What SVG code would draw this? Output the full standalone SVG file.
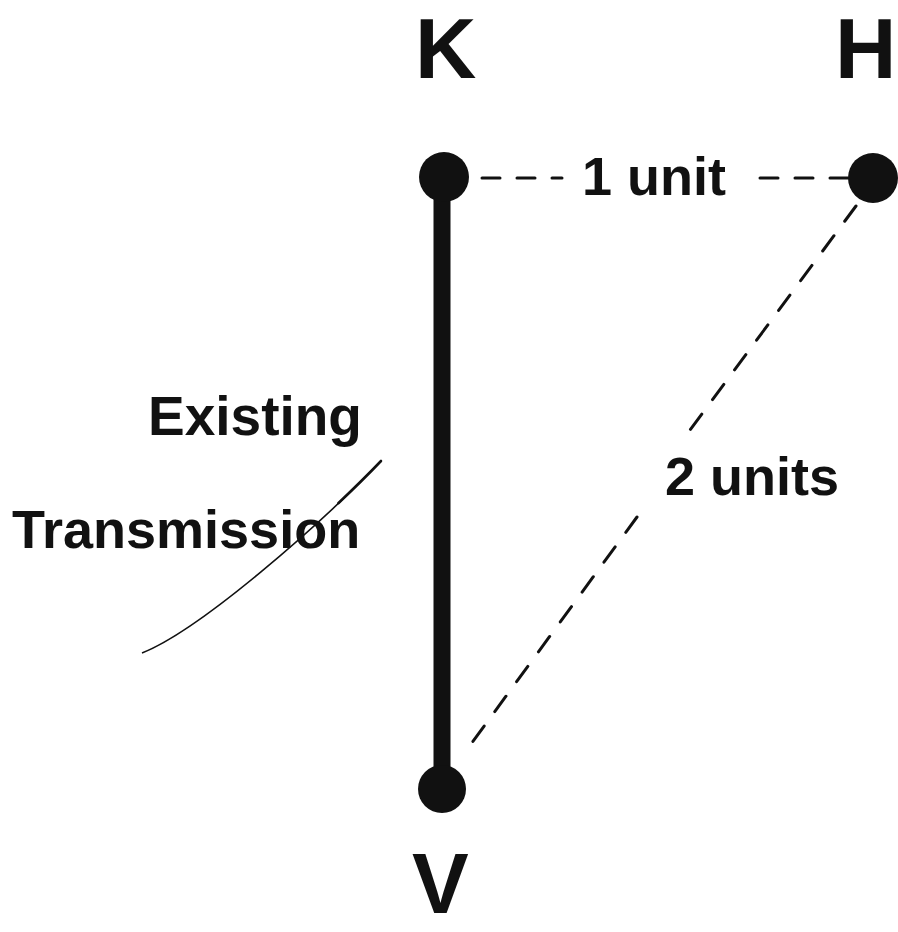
<svg xmlns="http://www.w3.org/2000/svg" width="898" height="932" viewBox="0 0 898 932">
  <style>
    .lbl { font-family: "Liberation Sans", Arial, sans-serif; font-weight: bold; fill: #111; }
    .big { font-size: 85px; }
    .mid { font-size: 54px; }
    .node { fill: #111; }
    .dash { fill: none; stroke: #111; stroke-width: 3; stroke-linecap: round; }
  </style>
  <rect width="898" height="932" fill="#fff"/>

  <g id="connectors">
    <line id="existing-transmission" x1="442" y1="180" x2="442" y2="788" stroke="#111" stroke-width="17"/>
    <path id="k-h" class="dash" d="M482,178 L562,178 M848,178 L752,178" stroke-dasharray="18 17"/>
    <path id="h-v" class="dash" d="M856,206 L690,430 M637,517 L463,755" stroke-dasharray="19 18"/>
    <path id="pointer" d="M142,653 C200,630 320,525 381,461" fill="none" stroke="#111" stroke-width="1.6"/>
    <path d="M338.3,503.2 C354.2,488.2 368.8,473.8 381,461" fill="none" stroke="#111" stroke-width="2.6" stroke-linecap="round"/>
  </g>

  <g id="node-K">
    <circle class="node" cx="444" cy="177" r="25"/>
    <text class="lbl big" x="415" y="78">K</text>
  </g>
  <g id="node-H">
    <circle class="node" cx="873" cy="178" r="25"/>
    <text class="lbl big" x="835" y="78">H</text>
  </g>
  <g id="node-V">
    <circle class="node" cx="442" cy="789" r="24"/>
    <text class="lbl big" x="412" y="913">V</text>
  </g>

  <g id="labels">
    <text class="lbl mid" x="582" y="195">1 unit</text>
    <text class="lbl mid" x="665" y="495">2 units</text>
    <text class="lbl mid" x="148" y="435" style="font-size:55px">Existing</text>
    <text class="lbl mid" x="12" y="548">Transmission</text>
  </g>
</svg>
